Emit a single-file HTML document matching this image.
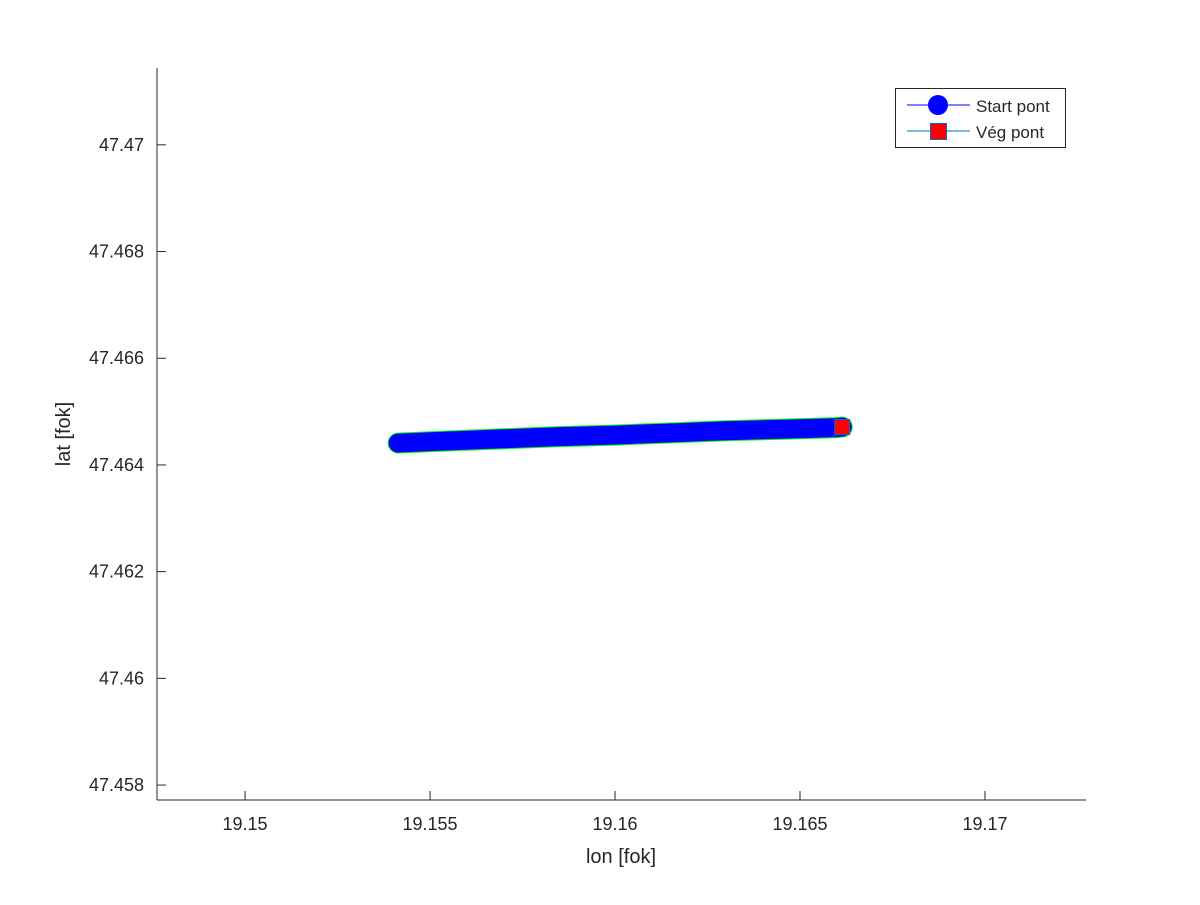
<!DOCTYPE html>
<html><head><meta charset="utf-8"><style>
body{margin:0;background:#fff;}
svg text{font-family:"Liberation Sans",sans-serif;fill:#262626;}
</style></head><body>
<svg id="chart" width="1200" height="900">
<rect x="0" y="0" width="1200" height="900" fill="#fff"/>
<g id="plot"></g>
<g id="axes"></g>
</svg>
<script>
const lonValues=[19.15414,19.1555,19.1570,19.1585,19.1600,19.1615,19.1630,19.1645,19.1660,19.16614];
const latValues=[47.46441,47.46445,47.46449,47.46453,47.46456,47.46460,47.46464,47.46467,47.46470,47.46471];
const endLon=[19.16614];
const endLat=[47.46471];
const xTicks=[19.15,19.155,19.16,19.165,19.17];
const xTickLabels=["19.15","19.155","19.16","19.165","19.17"];
const yTicks=[47.458,47.46,47.462,47.464,47.466,47.468,47.47];
const yTickLabels=["47.458","47.46","47.462","47.464","47.466","47.468","47.47"];

const X0=157,X1=1086,Y0=68,Y1=800;
const xmin=19.14762,xmax=19.17273,ymin=47.45772,ymax=47.47144;
const sx=v=>X0+(v-xmin)/(xmax-xmin)*(X1-X0);
const sy=v=>Y1-(v-ymin)/(ymax-ymin)*(Y1-Y0);
const NS="http://www.w3.org/2000/svg";
function mk(t,a,p){const e=document.createElementNS(NS,t);for(const k in a)e.setAttribute(k,a[k]);p.appendChild(e);return e;}
const plot=document.getElementById('plot'),axes=document.getElementById('axes');

let pts=lonValues.map((v,i)=>sx(v)+','+sy(latValues[i])).join(' ');
let halo=mk('polyline',{points:pts,fill:'none',stroke:'#00ff00','stroke-width':21,'stroke-linecap':'round','stroke-linejoin':'round'},plot);


let line=mk('polyline',{points:pts,fill:'none',stroke:'#0000ff','stroke-width':19,'stroke-linecap':'round','stroke-linejoin':'round'},plot);


lonValues.forEach((v,i)=>{
  const c=mk('circle',{cx:sx(v),cy:sy(latValues[i]),r:9.5,fill:'#0000ff'},plot);
  
  
});
endLon.forEach((v,i)=>{
  const r=mk('rect',{x:sx(v)-7.5,y:sy(endLat[i])-7.5,width:15,height:15,fill:'#ff0000',stroke:'#0072bd','stroke-width':1},plot);
  
  
});

mk('line',{x1:X0,y1:Y0,x2:X0,y2:Y1,stroke:'#262626'},axes);
mk('line',{x1:X0,y1:Y1,x2:X1,y2:Y1,stroke:'#262626'},axes);
xTicks.forEach((v,i)=>{
  const x=sx(v);
  mk('line',{x1:x,y1:Y1,x2:x,y2:Y1-9,stroke:'#262626'},axes);
  const t=mk('text',{x:x,y:830,'text-anchor':'middle','font-size':18},axes);
  t.textContent=xTickLabels[i];
  
  
});
yTicks.forEach((v,i)=>{
  const y=sy(v);
  mk('line',{x1:X0,y1:y,x2:X0+9,y2:y,stroke:'#262626'},axes);
  const t=mk('text',{x:144,y:y+6,'text-anchor':'end','font-size':18},axes);
  t.textContent=yTickLabels[i];
  
  
});
</script>
<svg style="position:absolute;left:0;top:0" width="1200" height="900">
<text x="621" y="863" text-anchor="middle" font-size="20">lon [fok]</text>
<text transform="translate(70,434) rotate(-90)" text-anchor="middle" font-size="20">lat [fok]</text>
<g>
<rect x="895.5" y="88.5" width="170" height="59" fill="#fff" stroke="#262626"/>
<line x1="907" y1="105" x2="970" y2="105" stroke="#0000ff"/>
<circle cx="938" cy="105" r="10" fill="#0000ff"/>
<text x="976" y="112" font-size="17">Start pont</text>
<line x1="907" y1="131" x2="970" y2="131" stroke="#0072bd"/>
<rect x="930.5" y="123.5" width="16" height="16" fill="#ff0000" stroke="#0072bd"/>
<text x="976" y="138" font-size="17">Vég pont</text>
</g>
</svg>
</body></html>
